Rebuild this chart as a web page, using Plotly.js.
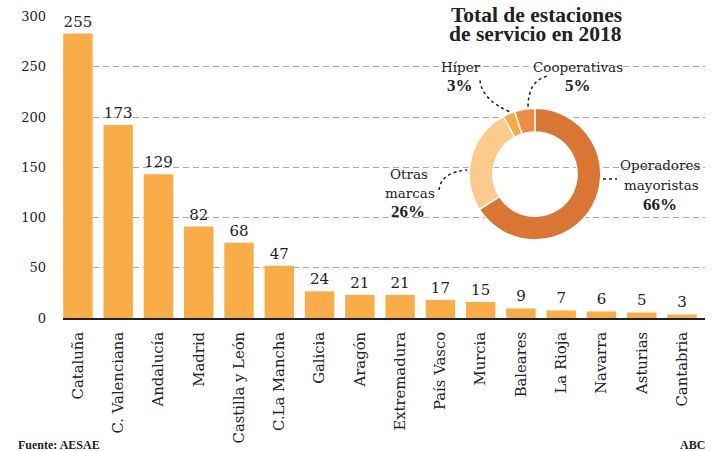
<!DOCTYPE html>
<html>
<head>
<meta charset="utf-8">
<script src="https://cdn.plot.ly/plotly-3.0.1.min.js"></script>
<style>html,body{margin:0;padding:0;background:#fff;}#chart{width:715px;height:451px;}</style>
</head>
<body>
<div id="chart"></div>
<script>
// ---- data ----
const regions = ["Cataluña","C. Valenciana","Andalucía","Madrid","Castilla y León","C.La Mancha","Galicia","Aragón","Extremadura","País Vasco","Murcia","Baleares","La Rioja","Navarra","Asturias","Cantabria"];
// bar heights as drawn against the axis in the picture
const barHeights = [283, 192, 143, 91, 75, 52, 26.5, 23, 23, 18, 16, 9.5, 7.5, 6.5, 5.5, 3.5];
// value labels printed above each bar
const barLabels = [255, 173, 129, 82, 68, 47, 24, 21, 21, 17, 15, 9, 7, 6, 5, 3];
const yTicks = [0, 50, 100, 150, 200, 250, 300];

const pieLabels = ["Operadores mayoristas", "Otras marcas", "Híper", "Cooperativas"];
const pieValues = [66, 26, 3, 5];
const pieColors = ["#D97634", "#FCCB8C", "#F7A942", "#EF8B45"];

// ---- layout helpers (pixel -> paper) ----
const L = 63, R = 705, B = 318.3, T = 15.5;
const px = x => (x - L) / (R - L);
const py = y => (B - y) / (B - T);

const REG = "DejaVu Serif";
const BOLD = "Liberation Serif";
const INK = "#222";

const bars = {
  type: "bar",
  x: regions,
  y: barHeights,
  text: barLabels.map(String),
  textposition: "outside",
  textfont: {family: REG, size: 15, color: INK},
  cliponaxis: false,
  constraintext: "none",
  marker: {color: "#FAAC47", line: {width: 0}},
  hoverinfo: "skip"
};

const pie = {
  type: "pie",
  labels: pieLabels,
  values: pieValues,
  sort: false,
  direction: "clockwise",
  rotation: 0,
  hole: 0.64,
  textinfo: "none",
  marker: {colors: pieColors, line: {color: "#fff", width: 1.5}},
  domain: {x: [px(469), px(601)], y: [py(240), py(108)]},
  showlegend: false,
  hoverinfo: "skip"
};

function ann(text, x, y, font, size, xanchor, h) {
  const a = {text: text, xref: "paper", yref: "paper", x: px(x), y: py(y),
    xanchor: xanchor || "center", yanchor: "middle", showarrow: false,
    font: {family: font, size: size, color: INK}};
  if (h) a.height = h;
  return a;
}

const annotations = [
  ann("<b>Total de estaciones</b>", 536, 14, BOLD, 21.5, "center", 19),
  ann("<b>de servicio en 2018</b>", 535, 33.5, BOLD, 21.5, "center", 19),
  ann("Híper", 461, 67, REG, 13.5),
  ann("<b>3%</b>", 460, 85, BOLD, 17),
  ann("Cooperativas", 578, 67, REG, 13.5),
  ann("<b>5%</b>", 578, 85, BOLD, 17),
  ann("Otras", 409, 174, REG, 13.5),
  ann("marcas", 410, 193, REG, 13.5),
  ann("<b>26%</b>", 408, 212, BOLD, 17),
  ann("Operadores", 660, 165, REG, 13.5),
  ann("mayoristas", 661, 185, REG, 13.5),
  ann("<b>66%</b>", 660, 204, BOLD, 17),
  ann("<b>Fuente: AESAE</b>", 16, 446, BOLD, 12, "left"),
  ann("<b>ABC</b>", 707, 446, BOLD, 12, "right")
];

function pathPx(cmds) {
  return cmds.map(c => c[0] + " " + c.slice(1).map((v, i) => i % 2 === 0 ? px(v) : py(v)).join(",")).join(" ");
}
const dotLine = {color: INK, width: 1.5, dash: "dot"};
const shapes = [
  {type: "path", xref: "paper", yref: "paper", path: pathPx([["M",603,179],["L",617,179]]), line: dotLine},
  {type: "path", xref: "paper", yref: "paper", path: pathPx([["M",439,190],["Q",441,172,467,170]]), line: dotLine},
  {type: "path", xref: "paper", yref: "paper", path: pathPx([["M",480,80],["Q",482,100,511,112]]), line: dotLine},
  {type: "path", xref: "paper", yref: "paper", path: pathPx([["M",547,76],["Q",528,80,528,108]]), line: dotLine}
];

const layout = {
  width: 715, height: 451,
  margin: {l: L, r: 715 - R, t: T, b: 451 - B, pad: 0},
  paper_bgcolor: "#fff", plot_bgcolor: "#fff",
  showlegend: false,
  bargap: 0.27,
  xaxis: {
    type: "category",
    range: [-0.37, 15.57],
    tickangle: -90,
    ticks: "", ticklabelstandoff: 6,
    tickfont: {family: REG, size: 14.8, color: INK},
    showline: true, linecolor: INK, linewidth: 2,
    showgrid: false, fixedrange: true
  },
  yaxis: {
    range: [0, 300.5],
    tickvals: yTicks,
    ticktext: yTicks.map(String),
    ticks: "", ticklabelstandoff: 16,
    tickfont: {family: REG, size: 13, color: INK},
    showgrid: true, gridcolor: "#aaa", gridwidth: 1, griddash: "6px,4px",
    zeroline: false, showline: false, fixedrange: true
  },
  annotations: annotations,
  shapes: shapes
};

Plotly.newPlot("chart", [bars, pie], layout, {staticPlot: true, displayModeBar: false});
</script>
</body>
</html>
